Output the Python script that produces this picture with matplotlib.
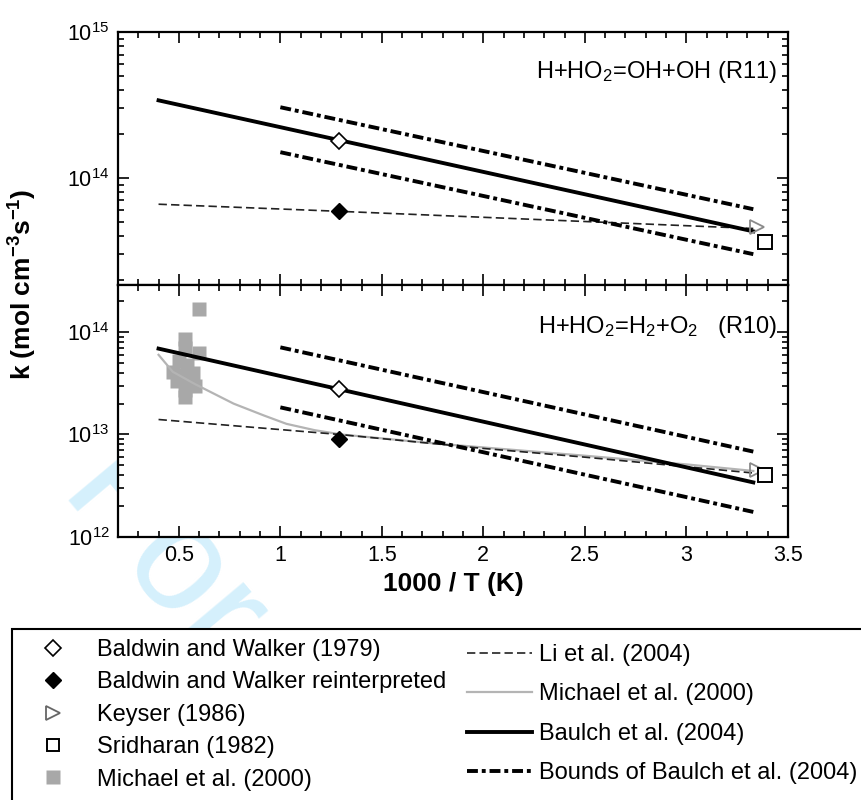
import matplotlib
matplotlib.use("Agg")
import matplotlib.pyplot as plt
from matplotlib.lines import Line2D
from matplotlib.patches import Rectangle
from matplotlib.ticker import MultipleLocator, FuncFormatter

plt.rcParams['font.family'] = ['Liberation Sans', 'DejaVu Sans']
plt.rcParams['mathtext.fontset'] = 'custom'
plt.rcParams['mathtext.rm'] = 'Liberation Sans'
plt.rcParams['mathtext.it'] = 'Liberation Sans:italic'
plt.rcParams['mathtext.bf'] = 'Liberation Sans:bold'

# ---- R11: H+HO2=OH+OH (top panel) ----
r11_baulch_x = [0.4, 3.33]
r11_baulch_k = [3.4e14, 4.3e13]
r11_upper_x = [1.0, 3.33]
r11_upper_k = [3.05e14, 6.1e13]
r11_lower_x = [1.0, 3.33]
r11_lower_k = [1.5e14, 3.0e13]
r11_li_x = [0.4, 1.29, 3.33]
r11_li_k = [6.6e13, 5.9e13, 4.5e13]
r11_bw_x, r11_bw_k = [1.29], [1.8e14]
r11_bw_re_x, r11_bw_re_k = [1.29], [5.9e13]
r11_keyser_x, r11_keyser_k = [3.35], [4.6e13]
r11_srid_x, r11_srid_k = [3.39], [3.65e13]

# ---- R10: H+HO2=H2+O2 (bottom panel) ----
r10_baulch_x = [0.4, 3.33]
r10_baulch_k = [6.9e13, 3.4e12]
r10_upper_x = [1.0, 3.33]
r10_upper_k = [7.1e13, 6.8e12]
r10_lower_x = [1.0, 3.33]
r10_lower_k = [1.84e13, 1.75e12]
r10_li_x = [0.4, 1.29, 2.0, 2.5, 3.33]
r10_li_k = [1.4e13, 1.0e13, 7.3e12, 6.0e12, 4.2e12]
r10_michael_x = [0.4, 0.47, 0.58, 0.77, 0.92, 1.03, 1.17, 1.3, 1.75, 2.5, 3.0, 3.33]
r10_michael_k = [6.0e13, 4.1e13, 3.1e13, 2.0e13, 1.53e13, 1.27e13, 1.1e13, 1.0e13,
                 8.2e12, 6.2e12, 5.1e12, 4.4e12]
r10_michael_pts_x = [0.60, 0.53, 0.53, 0.60, 0.50, 0.54, 0.47, 0.52, 0.57, 0.49,
                     0.55, 0.58, 0.53, 0.53]
r10_michael_pts_k = [1.7e14, 8.6e13, 7.0e13, 6.3e13, 5.2e13, 4.8e13, 4.1e13, 3.8e13,
                     4.0e13, 3.3e13, 3.2e13, 3.0e13, 2.7e13, 2.3e13]
r10_bw_x, r10_bw_k = [1.29], [2.77e13]
r10_bw_re_x, r10_bw_re_k = [1.29], [9.1e12]
r10_keyser_x, r10_keyser_k = [3.35], [4.5e12]
r10_srid_x, r10_srid_k = [3.39], [4.0e12]

fig = plt.figure(figsize=(8.61, 8.0), dpi=100)
ax1 = fig.add_axes([0.137, 0.644, 0.778, 0.316])
ax2 = fig.add_axes([0.137, 0.329, 0.778, 0.315], sharex=ax1)

li_style = dict(color='#222222', lw=1.2, ls=(0, (5, 2.5)))
mich_style = dict(color='#b4b4b4', lw=1.6, ls='-')
baulch_style = dict(color='black', lw=2.8, ls='-')
bound_style = dict(color='black', lw=2.8, ls=(0, (2.8, 1.0, 1.0, 1.0)))

def draw_panel(ax, d):
    ax.plot(d['li'][0], d['li'][1], zorder=2, **li_style)
    ax.plot(d['baulch'][0], d['baulch'][1], zorder=3, **baulch_style)
    ax.plot(d['upper'][0], d['upper'][1], zorder=3, **bound_style)
    ax.plot(d['lower'][0], d['lower'][1], zorder=3, **bound_style)
    ax.plot(d['bw'][0], d['bw'][1], 'D', ms=8, mfc='white', mec='black', mew=1.2, zorder=5)
    ax.plot(d['bwre'][0], d['bwre'][1], 'D', ms=8, mfc='black', mec='black', zorder=5)
    ax.plot(d['keyser'][0], d['keyser'][1], '>', ms=10, mfc='none', mec='#8a8a8a', mew=1.3, zorder=5)
    ax.plot(d['srid'][0], d['srid'][1], 's', ms=10, mfc='white', mec='black', mew=1.4, zorder=5)

draw_panel(ax1, dict(li=(r11_li_x, r11_li_k), baulch=(r11_baulch_x, r11_baulch_k),
                     upper=(r11_upper_x, r11_upper_k), lower=(r11_lower_x, r11_lower_k),
                     bw=(r11_bw_x, r11_bw_k), bwre=(r11_bw_re_x, r11_bw_re_k),
                     keyser=(r11_keyser_x, r11_keyser_k), srid=(r11_srid_x, r11_srid_k)))
ax2.plot(r10_michael_pts_x, r10_michael_pts_k, 's', ms=10, color='#a8a8a8', mec='none', zorder=1)
ax2.plot(r10_michael_x, r10_michael_k, zorder=2, **mich_style)
draw_panel(ax2, dict(li=(r10_li_x, r10_li_k), baulch=(r10_baulch_x, r10_baulch_k),
                     upper=(r10_upper_x, r10_upper_k), lower=(r10_lower_x, r10_lower_k),
                     bw=(r10_bw_x, r10_bw_k), bwre=(r10_bw_re_x, r10_bw_re_k),
                     keyser=(r10_keyser_x, r10_keyser_k), srid=(r10_srid_x, r10_srid_k)))

for ax in (ax1, ax2):
    ax.set_yscale('log')
    ax.set_xlim(0.2, 3.5)
    ax.xaxis.set_major_locator(MultipleLocator(0.5))
    ax.xaxis.set_minor_locator(MultipleLocator(0.1))
    ax.tick_params(which='both', direction='in', top=True, right=True, width=1.2,
                   labelsize=15.5, pad=6)
    ax.tick_params(which='major', length=8)
    ax.tick_params(which='minor', length=4)
    for s in ax.spines.values():
        s.set_linewidth(1.6)
ax1.set_ylim(1.85e13, 1e15)
ax2.set_ylim(1e12, 2.9e14)
ax1.tick_params(labelbottom=False)
ax2.xaxis.set_major_formatter(FuncFormatter(lambda v, p: '%g' % v))

ax1.text(0.984, 0.842, 'H+HO$_2$=OH+OH (R11)', transform=ax1.transAxes,
         ha='right', va='center', fontsize=17)
ax2.text(0.984, 0.833, 'H+HO$_2$=H$_2$+O$_2$   (R10)', transform=ax2.transAxes,
         ha='right', va='center', fontsize=17)

ax2.set_xlabel('1000 / T (K)', fontsize=19, fontweight='bold', labelpad=4)
fig.text(0.027, 0.645, r'k (mol cm$^{\mathbf{-3}}$s$^{\mathbf{-1}}$)', rotation=90,
         ha='center', va='center', fontsize=19, fontweight='bold')

# faint watermark behind the axes and the legend box
fig.text(0.064, 0.376, 'For', rotation=-50, rotation_mode='anchor',
         ha='left', va='baseline', fontsize=110, color='#d5f0fc', zorder=-1)

# legend box (opaque, runs off the right and bottom edges)
fig.patches.append(Rectangle((0.014, -0.1), 1.2, 0.314, transform=fig.transFigure,
                             facecolor='white', edgecolor='black', lw=1.5,
                             clip_on=False, zorder=0))

left_handles = [
    Line2D([], [], ls='none', marker='D', ms=8, mfc='white', mec='black', mew=1.2),
    Line2D([], [], ls='none', marker='D', ms=8, mfc='black', mec='black'),
    Line2D([], [], ls='none', marker='>', ms=10, mfc='none', mec='#666666', mew=1.3),
    Line2D([], [], ls='none', marker='s', ms=9, mfc='white', mec='black', mew=1.4),
    Line2D([], [], ls='none', marker='s', ms=10, color='#a8a8a8', mec='none'),
]
left_labels = ['Baldwin and Walker (1979)', 'Baldwin and Walker reinterpreted',
               'Keyser (1986)', 'Sridharan (1982)', 'Michael et al. (2000)']
right_handles = [Line2D([], [], **li_style), Line2D([], [], **mich_style),
                 Line2D([], [], **baulch_style), Line2D([], [], **bound_style)]
right_labels = ['Li et al. (2004)', 'Michael et al. (2000)', 'Baulch et al. (2004)',
                'Bounds of Baulch et al. (2004)']

fig.legend(left_handles, left_labels, loc='upper left', bbox_to_anchor=(41 / 861, 1 - 639 / 800),
           frameon=False, fontsize=17, handlelength=1.0, handletextpad=1.36,
           labelspacing=0.44, borderpad=0, borderaxespad=0)
fig.legend(right_handles, right_labels, loc='upper left', bbox_to_anchor=(467 / 861, 1 - 644 / 800),
           frameon=False, fontsize=17, handlelength=2.75, handletextpad=0.3,
           labelspacing=0.74, borderpad=0, borderaxespad=0)

fig.savefig('out.png', dpi=100)
